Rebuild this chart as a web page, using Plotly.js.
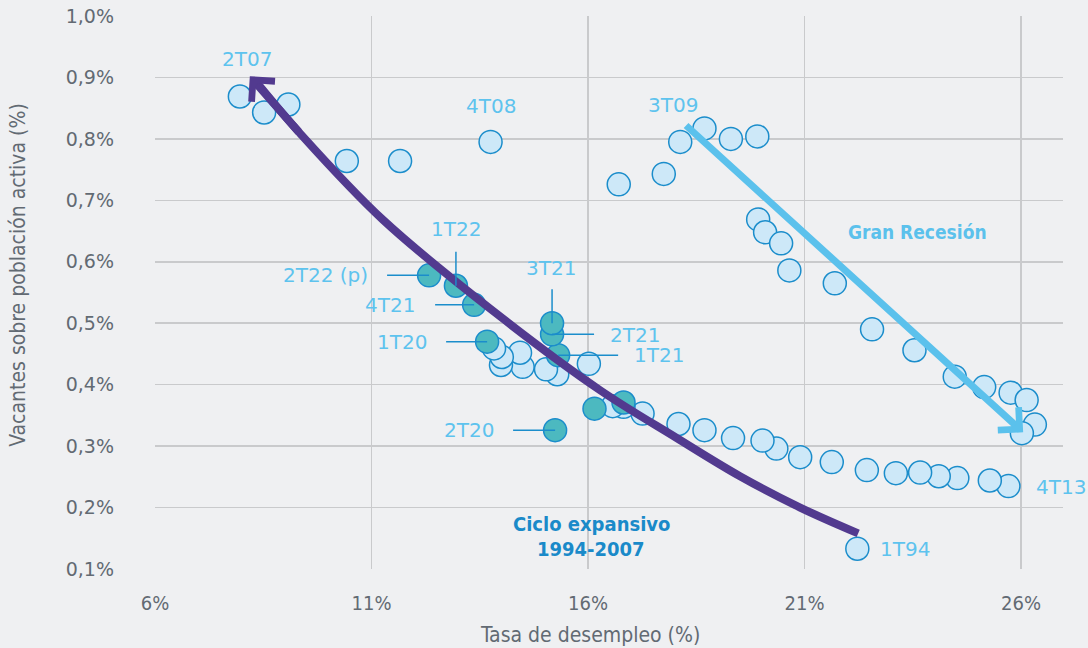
<!DOCTYPE html>
<html>
<head>
<meta charset="utf-8">
<script src="https://cdn.plot.ly/plotly-3.0.1.min.js"></script>
<style>
  html, body { margin: 0; padding: 0; background: #eff0f2; }
  #chart { width: 1088px; height: 648px; }
</style>
</head>
<body>
<div id="chart"></div>
<script>
// ===============================
// DATA
// ===============================

// historic quarters (light circles): unemployment %, vacancies %
const histUnemp = [22.22, 7.96, 8.52, 9.08, 10.43, 11.66, 13.75, 16.71, 17.75, 18.13,
                   18.69, 19.30, 19.91, 19.93, 20.09, 20.46, 20.65, 21.70, 22.56, 23.54,
                   24.47, 25.15, 25.76, 26.13, 26.32, 26.02, 25.71, 25.28, 24.53, 24.10,
                   23.67, 23.11, 22.44, 21.63, 20.90, 20.35, 20.03, 19.35, 18.69, 18.09,
                   17.26, 16.82, 16.57, 16.02, 15.29, 15.03, 14.49, 14.43, 13.99, 14.01, 13.83];
const histVac   = [0.133, 0.869, 0.843, 0.856, 0.764, 0.764, 0.795, 0.726, 0.743, 0.795,
                   0.817, 0.800, 0.804, 0.669, 0.648, 0.630, 0.586, 0.565, 0.490, 0.456,
                   0.413, 0.396, 0.387, 0.375, 0.335, 0.321, 0.235, 0.244, 0.248, 0.251,
                   0.257, 0.256, 0.261, 0.274, 0.282, 0.296, 0.309, 0.313, 0.326, 0.336,
                   0.353, 0.364, 0.365, 0.434, 0.417, 0.425, 0.429, 0.452, 0.432, 0.445, 0.459];
// labelled historic quarters (index into the arrays above)
const histLabels = ['1T94', '2T07', '4T08', '3T09', '4T13'];
const histLabelIdx = [0, 1, 6, 9, 26];

// pandemic quarters (teal circles)
const covidQuarters = ['1T20', '2T20', '3T20', '4T20', '1T21', '2T21', '3T21', '4T21', '1T22', '2T22 (p)'];
const covidUnemp = [13.67, 15.24, 16.15, 16.82, 15.31, 15.17, 15.17, 13.37, 12.95, 12.33];
const covidVac   = [0.470, 0.326, 0.361, 0.371, 0.448, 0.482, 0.500, 0.530, 0.561, 0.578];

// guide arrows (data units)
const cycleArrowX = [22.24, 20.90, 19.51, 18.03, 16.28, 13.97, 11.27, 9.35, 8.36];
const cycleArrowY = [0.158, 0.200, 0.251, 0.314, 0.391, 0.511, 0.668, 0.809, 0.891];
const recessionArrowX = [18.23, 26.05];
const recessionArrowY = [0.824, 0.3225];

// ===============================
// STYLE
// ===============================

const BG = '#eff0f2';
const GRID = '#c9cacc';
const TICK = '#626a73';
const LABEL = '#5ec3ee';
const EDGE = '#1b8dcb';
const PURPLE = '#523a8f';
const SKY = '#5bc1ec';
const DARKBLUE = '#1a8ac9';

const labelFont = { family: 'DejaVu Sans', size: 20, color: LABEL };

// label placement for pandemic quarters (pixel offsets from the point)
const covidLabelPos = {
    '1T20':     { dx: -58, dy: 0,  anchor: 'right',  lx: [-41, 0], ly: [0, 0] },
    '2T20':     { dx: -59, dy: 0,  anchor: 'right',  lx: [-42, 0], ly: [0, 0] },
    '1T21':     { dx: 74,  dy: 0,  anchor: 'left',   lx: [0, 60],  ly: [0, 0] },
    '2T21':     { dx: 56,  dy: -1, anchor: 'left',   lx: [0, 42],  ly: [0, 0] },
    '3T21':     { dx: -1,  dy: 55, anchor: 'center', lx: [0, 0],   ly: [0, 34] },
    '4T21':     { dx: -57, dy: 0,  anchor: 'right',  lx: [-39, 0], ly: [0, 0] },
    '1T22':     { dx: 0,   dy: 57, anchor: 'center', lx: [0, 0],   ly: [0, 34] },
    '2T22 (p)': { dx: -59, dy: 0,  anchor: 'right',  lx: [-42, 0], ly: [0, 0] }
};

const histLabelPos = {
    '1T94': { dx: 21, dy: 0,   anchor: 'left' },
    '2T07': { dx: 7,  dy: 37,  anchor: 'center' },
    '4T08': { dx: 0,  dy: 36,  anchor: 'center' },
    '3T09': { dx: -7, dy: 37,  anchor: 'center' },
    '4T13': { dx: 26, dy: -1,  anchor: 'left' }
};

// ===============================
// TRACES
// ===============================

const traces = [
{
    type: 'scatter',
    mode: 'markers',
    x: histUnemp,
    y: histVac,
    cliponaxis: false,
    marker: {
        size: 23,
        color: '#cde8f8',
        line: { width: 1.5, color: EDGE }
    },
    hoverinfo: 'x+y'
},
{
    type: 'scatter',
    mode: 'markers',
    x: covidUnemp,
    y: covidVac,
    text: covidQuarters,
    cliponaxis: false,
    marker: {
        size: 23,
        color: '#4cb9c0',
        line: { width: 1.5, color: EDGE }
    },
    hoverinfo: 'text+x+y'
},
{
    type: 'scatter',
    mode: 'lines',
    x: cycleArrowX,
    y: cycleArrowY,
    line: { shape: 'spline', smoothing: 1, width: 8, color: PURPLE },
    hoverinfo: 'skip'
}
];

// ===============================
// ANNOTATIONS + LEADER LINES
// ===============================

let annotations = [];
let shapes = [];

histLabels.forEach(function(lab, i) {
    let k = histLabelIdx[i];
    let p = histLabelPos[lab];
    annotations.push({
        x: histUnemp[k], y: histVac[k], xref: 'x', yref: 'y',
        text: lab, showarrow: false,
        xanchor: p.anchor, yanchor: 'middle',
        xshift: p.dx, yshift: p.dy,
        font: labelFont
    });
});

covidQuarters.forEach(function(q, i) {
    let p = covidLabelPos[q];
    if(!p) return;
    annotations.push({
        x: covidUnemp[i], y: covidVac[i], xref: 'x', yref: 'y',
        text: q, showarrow: false,
        xanchor: p.anchor, yanchor: 'middle',
        xshift: p.dx, yshift: p.dy,
        font: labelFont
    });
    shapes.push({
        type: 'line', xref: 'x', yref: 'y',
        xsizemode: 'pixel', ysizemode: 'pixel',
        xanchor: covidUnemp[i], yanchor: covidVac[i],
        x0: p.lx[0], x1: p.lx[1], y0: p.ly[0], y1: p.ly[1],
        line: { color: EDGE, width: 1.5 }
    });
});

// arrow heads
annotations.push({
    x: cycleArrowX[cycleArrowX.length - 1] - 0.17,
    y: cycleArrowY[cycleArrowY.length - 1] + 0.011,
    ax: cycleArrowX[cycleArrowX.length - 2],
    ay: cycleArrowY[cycleArrowY.length - 2],
    xref: 'x', yref: 'y', axref: 'x', ayref: 'y',
    text: '', showarrow: true,
    arrowhead: 4, arrowsize: 0.75, arrowwidth: 8, arrowcolor: PURPLE
});

annotations.push({
    x: recessionArrowX[1], y: recessionArrowY[1],
    ax: recessionArrowX[0], ay: recessionArrowY[0],
    xref: 'x', yref: 'y', axref: 'x', ayref: 'y',
    text: '', showarrow: true,
    arrowhead: 4, arrowsize: 0.85, arrowwidth: 7, arrowcolor: SKY
});

// phase titles
const boldFont = { family: 'DejaVu Sans Condensed', size: 20, color: DARKBLUE };

annotations.push({
    x: 16.07, y: 0.174, xref: 'x', yref: 'y',
    text: '<b>Ciclo expansivo</b>', showarrow: false, font: boldFont
});
annotations.push({
    x: 16.07, y: 0.132, xref: 'x', yref: 'y',
    text: '<b>1994-2007</b>', showarrow: false, font: boldFont
});
annotations.push({
    x: 23.60, y: 0.648, xref: 'x', yref: 'y',
    text: '<b>Gran Recesión</b>', showarrow: false,
    font: { family: 'DejaVu Sans Condensed', size: 19, color: SKY }
});

// axis titles
annotations.push({
    x: 0.479, y: 0, xref: 'paper', yref: 'paper',
    yshift: -66, yanchor: 'middle',
    text: 'Tasa de desempleo (%)', showarrow: false,
    font: { family: 'DejaVu Sans Condensed', size: 21, color: TICK }
});
annotations.push({
    x: 0, y: 0.532, xref: 'paper', yref: 'paper',
    xshift: -137, xanchor: 'center',
    textangle: -90,
    text: 'Vacantes sobre población activa (%)', showarrow: false,
    font: { family: 'DejaVu Sans Condensed', size: 21, color: TICK }
});

// ===============================
// LAYOUT
// ===============================

const layout = {
    width: 1088,
    height: 648,
    paper_bgcolor: BG,
    plot_bgcolor: BG,
    margin: { l: 155, r: 25, t: 16, b: 79 },
    showlegend: false,
    separators: ',.',
    xaxis: {
        range: [6, 26.97],
        tick0: 6,
        dtick: 5,
        ticksuffix: '%',
        showgrid: true,
        gridcolor: GRID,
        gridwidth: 1.5,
        zeroline: false,
        showline: false,
        ticks: '',
        ticklabelstandoff: 20,
        tickfont: { family: 'DejaVu Sans Condensed', size: 20, color: TICK }
    },
    yaxis: {
        range: [0.1, 1.0],
        tick0: 0.1,
        dtick: 0.1,
        tickformat: '.1f',
        ticksuffix: '%',
        showgrid: true,
        gridcolor: GRID,
        gridwidth: 1.5,
        zeroline: false,
        showline: false,
        ticks: '',
        ticklabelstandoff: 40,
        tickfont: { family: 'DejaVu Sans', size: 19, color: TICK }
    },
    annotations: annotations,
    shapes: shapes
};

Plotly.newPlot('chart', traces, layout, { displayModeBar: false, staticPlot: true });
</script>
</body>
</html>
